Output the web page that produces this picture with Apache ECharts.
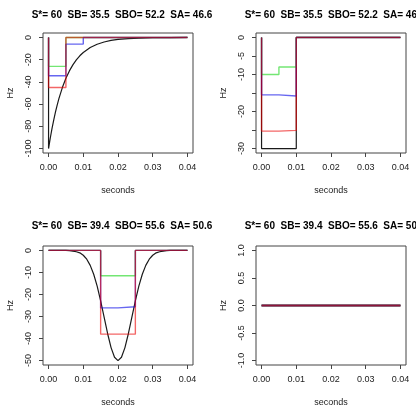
<!DOCTYPE html>
<html><head><meta charset="utf-8">
<script src="https://cdn.jsdelivr.net/npm/echarts@6/dist/echarts.min.js"></script>
<style>html,body{margin:0;padding:0;background:#fff}#c{width:416px;height:408px}</style>
</head><body><div id="c"></div>
<script>
// Titles
const titles = [
  "S*= 60  SB= 35.5  SBO= 52.2  SA= 46.6",
  "S*= 60  SB= 35.5  SBO= 52.2  SA= 46.6",
  "S*= 60  SB= 39.4  SBO= 55.6  SA= 50.6",
  "S*= 60  SB= 39.4  SBO= 55.6  SA= 50.6"
];
const xTicks = [0, 0.01, 0.02, 0.03, 0.04];
const yTicks1 = [0, -20, -40, -60, -80, -100];
const yTicks2 = [0, -5, -10, -15, -20, -25, -30];
const yLabels2 = [0, -5, -10, -20, -30];
const yTicks3 = [0, -10, -20, -30, -40, -50];
const yTicks4 = [1, 0.5, 0, -0.5, -1];

// Panel 1
const p1BlackT = [0, 0, 0.0005, 0.001, 0.0015, 0.002, 0.0025, 0.003, 0.004, 0.005, 0.006, 0.007, 0.008, 0.009, 0.010, 0.012, 0.014, 0.016, 0.018, 0.020, 0.023, 0.026, 0.030, 0.035, 0.040];
const p1BlackV = [0, -100, -90.5, -81.9, -74.1, -67.0, -60.7, -54.9, -44.9, -36.8, -30.1, -24.7, -20.2, -16.5, -13.5, -9.1, -6.1, -4.1, -2.7, -1.8, -1.0, -0.6, -0.25, -0.1, 0];
const p1GreenT = [0, 0, 0.005, 0.005, 0.04];
const p1GreenV = [0, -26, -26, 0, 0];
const p1BlueT = [0, 0, 0.005, 0.005, 0.01, 0.01, 0.04];
const p1BlueV = [0, -34.5, -34.5, -6, -6, 0, 0];
const p1RedT = [0, 0, 0.005, 0.005, 0.04];
const p1RedV = [0, -45, -45, 0, 0];

// Panel 2
const p2BlackT = [0, 0, 0.01, 0.01, 0.04];
const p2BlackV = [0, -30, -30, 0, 0];
const p2StepT = [0, 0, 0.005, 0.005, 0.01, 0.01, 0.04];
const p2GreenV = [0, -10, -10, -8, -8, 0, 0];
const p2BlueV = [0, -15.5, -15.5, -15.8, -15.8, 0, 0];
const p2RedV = [0, -25.3, -25.3, -25.1, -25.1, 0, 0];

// Panel 3
const p3BlackT = [0, 0.005, 0.006, 0.007, 0.008, 0.009, 0.010, 0.011, 0.012, 0.013, 0.014, 0.015, 0.016, 0.017, 0.018, 0.019, 0.020, 0.021, 0.022, 0.023, 0.024, 0.025, 0.026, 0.027, 0.028, 0.029, 0.030, 0.031, 0.032, 0.033, 0.034, 0.035, 0.040];
const p3BlackV = [0, 0, -0.1, -0.3, -0.6, -1.1, -2.2, -4.0, -6.8, -10.8, -16.2, -22.9, -30.3, -37.7, -44.1, -48.5, -50, -48.5, -44.1, -37.7, -30.3, -22.9, -16.2, -10.8, -6.8, -4.0, -2.2, -1.1, -0.6, -0.3, -0.1, 0, 0];
const p3GreenT = [0, 0.015, 0.015, 0.025, 0.025, 0.04];
const p3GreenV = [0, 0, -11.5, -11.5, 0, 0];
const p3BlueT = [0, 0.015, 0.015, 0.02, 0.02, 0.025, 0.025, 0.04];
const p3BlueV = [0, 0, -26.1, -26.1, -25.6, -25.6, 0, 0];
const p3RedT = [0, 0.015, 0.015, 0.025, 0.025, 0.04];
const p3RedV = [0, 0, -38, -38, 0, 0];

// Panel 4
const p4T = [0, 0.04];
const p4BlackV = [0, 0];
const p4GreenV = [0, 0];
const p4BlueV = [0, 0];
const p4RedV = [0, 0];

const FONT = "'Liberation Sans', Arial, Helvetica, sans-serif";
const C_BLACK = '#1a1a1a', C_GREEN = 'rgba(0,210,0,0.55)', C_BLUE = 'rgba(0,0,230,0.6)', C_RED = 'rgba(235,0,0,0.6)';

const grids = [
  {left: 43, top: 33, width: 150, height: 120},
  {left: 256, top: 33, width: 150, height: 120},
  {left: 43, top: 246, width: 150, height: 120},
  {left: 256, top: 246, width: 150, height: 120}
];
const yRanges = [[-104, 4], [-31.2, 1.2], [-52, 2], [-1.08, 1.08]];
const yTickSets = [yTicks1, yTicks2, yTicks3, yTicks4];
const yLabelSets = [yTicks1, yLabels2, yTicks3, yTicks4];
const yFmt = [v => String(v), v => String(v), v => String(v), v => v.toFixed(1)];

function pts(t, v) { return t.map((x, i) => [x, v[i]]); }
function line(idx, t, v, color, w) {
  return {type: 'line', xAxisIndex: idx, yAxisIndex: idx, data: pts(t, v), symbol: 'none',
    lineStyle: {color: color, width: w}, itemStyle: {color: color}, silent: true, clip: false};
}

const option = {
  animation: false,
  backgroundColor: '#fff',
  title: titles.map((s, i) => ({
    text: s, left: grids[i].left + 74, top: i < 2 ? 5 : 216, textAlign: 'center',
    textStyle: {fontFamily: FONT, fontSize: 10, fontWeight: 'bold', color: '#000'}
  })),
  grid: grids.map(g => Object.assign({show: true, borderColor: '#444', borderWidth: 1, backgroundColor: 'transparent'}, g)),
  xAxis: grids.map((g, i) => ({
    type: 'value', gridIndex: i, min: -0.0016, max: 0.0416, position: 'bottom',
    axisLine: {show: false, onZero: false}, splitLine: {show: false},
    axisTick: {show: true, inside: false, length: 4, customValues: xTicks, lineStyle: {color: '#444'}},
    axisLabel: {customValues: xTicks, formatter: v => v.toFixed(2), margin: 10, fontSize: 9, fontFamily: FONT, color: '#222'},
    name: 'seconds', nameLocation: 'middle', nameGap: 33,
    nameTextStyle: {fontSize: 9, fontFamily: FONT, color: '#222'}
  })),
  yAxis: grids.map((g, i) => ({
    type: 'value', gridIndex: i, min: yRanges[i][0], max: yRanges[i][1], position: 'left',
    axisLine: {show: false, onZero: false}, splitLine: {show: false},
    axisTick: {show: true, inside: false, length: 4, customValues: yTickSets[i], lineStyle: {color: '#444'}},
    axisLabel: {customValues: yLabelSets[i], formatter: yFmt[i], rotate: 90, margin: 10, fontSize: 9, fontFamily: FONT, color: '#222'},
    name: 'Hz', nameLocation: 'middle', nameGap: 28, nameRotate: 90,
    nameTextStyle: {fontSize: 9, fontFamily: FONT, color: '#222'}
  })),
  series: [
    line(0, p1BlackT, p1BlackV, C_BLACK, 1.2),
    line(0, p1GreenT, p1GreenV, C_GREEN, 1.4),
    line(0, p1BlueT, p1BlueV, C_BLUE, 1.4),
    line(0, p1RedT, p1RedV, C_RED, 1.4),
    line(1, p2BlackT, p2BlackV, C_BLACK, 1.2),
    line(1, p2StepT, p2GreenV, C_GREEN, 1.4),
    line(1, p2StepT, p2BlueV, C_BLUE, 1.4),
    line(1, p2StepT, p2RedV, C_RED, 1.4),
    line(2, p3BlackT, p3BlackV, C_BLACK, 1.2),
    line(2, p3GreenT, p3GreenV, C_GREEN, 1.4),
    line(2, p3BlueT, p3BlueV, C_BLUE, 1.4),
    line(2, p3RedT, p3RedV, C_RED, 1.4),
    line(3, p4T, p4BlackV, C_BLACK, 1.6),
    line(3, p4T, p4GreenV, C_GREEN, 1.8),
    line(3, p4T, p4BlueV, C_BLUE, 1.8),
    line(3, p4T, p4RedV, C_RED, 1.8)
  ]
};
const chart = echarts.init(document.getElementById('c'), null, {renderer: 'canvas'});
chart.setOption(option);
</script>
</body></html>
